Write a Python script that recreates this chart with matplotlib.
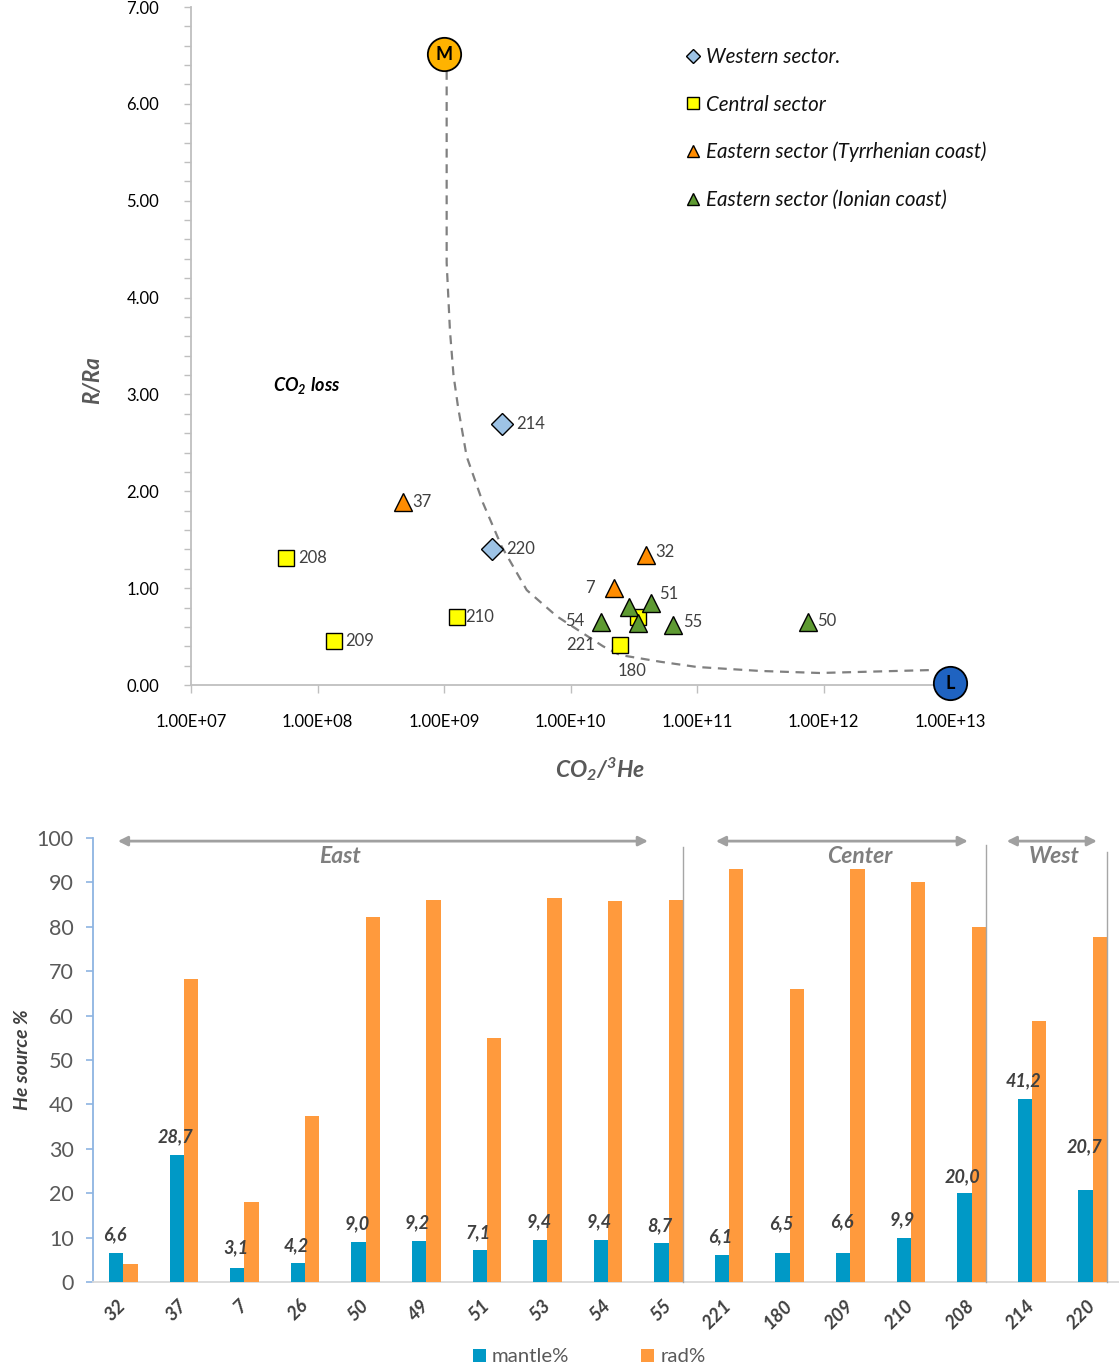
import matplotlib
matplotlib.use("Agg")
import matplotlib.pyplot as plt
from matplotlib.ticker import MultipleLocator, NullLocator
from matplotlib.lines import Line2D
from matplotlib.patches import Patch
import numpy as np

plt.rcParams['font.family'] = ['Lato', 'DejaVu Sans']
plt.rcParams['mathtext.fontset'] = 'custom'
plt.rcParams['mathtext.rm'] = 'Lato'
plt.rcParams['mathtext.it'] = 'Lato:italic'
plt.rcParams['mathtext.bf'] = 'Lato:bold'
plt.rcParams['mathtext.bfit'] = 'Lato:bold:italic'

# ---------------- R/Ra vs CO2/3He data ----------------
west_ids = ['214', '220']
west_x = [2.9e9, 2.4e9]
west_r = [2.69, 1.40]

central_ids = ['208', '209', '210', '221', '180']
central_x = [5.6e7, 1.35e8, 1.27e9, 2.45e10, 3.4e10]
central_r = [1.31, 0.45, 0.70, 0.41, 0.70]

tyrr_ids = ['37', '32', '7']
tyrr_x = [4.7e8, 3.95e10, 2.2e10]
tyrr_r = [1.89, 1.34, 1.00]

ionian_ids = ['54', '51', '55', '50', '49', '53']
ionian_x = [1.75e10, 4.35e10, 6.45e10, 7.6e11, 2.9e10, 3.4e10]
ionian_r = [0.65, 0.85, 0.62, 0.65, 0.81, 0.64]

# end-members and the mixing trend between them
mantle_end = (1.0e9, 6.51)
crust_end = (1.0e13, 0.02)
mix_logx = [9.021, 9.021, 9.021, 9.047, 9.075, 9.111, 9.179, 9.308, 9.456,
            9.654, 9.891, 10.257, 10.391, 10.71, 11.0, 11.5, 11.97, 12.87]
mix_r = [6.34, 5.04, 4.36, 3.66, 3.20, 2.87, 2.36, 1.88, 1.43,
         0.98, 0.71, 0.40, 0.31, 0.24, 0.186, 0.145, 0.124, 0.155]

x_tick_values = [1e7, 1e8, 1e9, 1e10, 1e11, 1e12, 1e13]
x_tick_labels = ['1.00E+07', '1.00E+08', '1.00E+09', '1.00E+10',
                 '1.00E+11', '1.00E+12', '1.00E+13']
y_tick_values = [0, 1, 2, 3, 4, 5, 6, 7]

# ---------------- He source bar data ----------------
samples = ['32', '37', '7', '26', '50', '49', '51', '53', '54', '55',
           '221', '180', '209', '210', '208', '214', '220']
mantle_pct = [6.6, 28.7, 3.1, 4.2, 9.0, 9.2, 7.1, 9.4, 9.4, 8.7,
              6.1, 6.5, 6.6, 9.9, 20.0, 41.2, 20.7]
rad_pct = [4.0, 68.3, 18.0, 37.5, 82.3, 86.0, 55.0, 86.5, 85.8, 86.0,
           93.1, 66.1, 93.0, 90.0, 80.0, 58.8, 77.6]

fig = plt.figure(figsize=(11.19, 13.68), dpi=100)
W, H = 1119.0, 1368.0

# =============== upper panel ===============
ax1 = fig.add_axes([191 / W, 1 - 685 / H, 759 / W, 678 / H])
ax1.set_xscale('log')
ax1.set_xlim(1e7, 1e13)
ax1.set_ylim(0, 7)

axis_gray = '#BFBFBF'
for s in ['top', 'right']:
    ax1.spines[s].set_visible(False)
for s in ['left', 'bottom']:
    ax1.spines[s].set_color(axis_gray)
    ax1.spines[s].set_linewidth(1.3)

ax1.set_xticks(x_tick_values)
ax1.set_xticklabels(x_tick_labels)
ax1.xaxis.set_minor_locator(NullLocator())
ax1.set_yticks(y_tick_values)
ax1.set_yticklabels(['%.2f' % v for v in y_tick_values])
ax1.yaxis.set_minor_locator(MultipleLocator(0.2))
ax1.tick_params(axis='x', which='major', color=axis_gray, length=6, width=1,
                labelsize=12, labelcolor='black', pad=15)
ax1.tick_params(axis='y', which='both', color=axis_gray, length=5, width=1,
                labelsize=12, labelcolor='black', pad=18)

# mixing trend
ax1.plot(10 ** np.array(mix_logx), mix_r, linestyle=(0, (4, 3)),
         color='#808080', lw=1.6, zorder=2)

mk = dict(markeredgecolor='black', markeredgewidth=1.0, linestyle='none', zorder=4)
ax1.plot(west_x, west_r, marker='D', markersize=11, markerfacecolor='#9DC3E6', **mk)
ax1.plot(central_x, central_r, marker='s', markersize=11, markerfacecolor='#FFFF00', **mk)
ax1.plot(tyrr_x, tyrr_r, marker='^', markersize=13, markerfacecolor='#FF8C00', **mk)
ax1.plot(ionian_x, ionian_r, marker='^', markersize=13, markerfacecolor='#5E9A32', **mk)

# end-member circles
ax1.plot(*mantle_end, marker='o', markersize=24, markerfacecolor='#FFB300',
         markeredgecolor='black', markeredgewidth=1.3, clip_on=False, zorder=5)
ax1.text(*mantle_end, 'M', ha='center', va='center', fontsize=13,
         fontweight='bold', zorder=6)
ax1.plot(*crust_end, marker='o', markersize=24, markerfacecolor='#1F63C1',
         markeredgecolor='black', markeredgewidth=1.3, clip_on=False, zorder=5)
ax1.text(*crust_end, 'L', ha='center', va='center', fontsize=13,
         fontweight='bold', zorder=6, clip_on=False)

# sample labels (offsets in points)
label_offsets = {
    '214': (10, 0, 'left'), '220': (10, 0, 'left'),
    '208': (9, 0, 'left'), '209': (8, 0, 'left'), '210': (6, 0, 'left'),
    '221': (-18, 0, 'right'), '180': (-4, -39, 'center'),
    '37': (7, 0, 'left'), '32': (7, 2, 'left'), '7': (-14, 0, 'right'),
    '54': (-12, 1, 'right'), '51': (6, 6, 'left'), '55': (7, 2, 'left'),
    '50': (6, 1, 'left'),
}
label_color = '#404040'
for ids, xs, rs in [(west_ids, west_x, west_r), (central_ids, central_x, central_r),
                    (tyrr_ids, tyrr_x, tyrr_r), (ionian_ids, ionian_x, ionian_r)]:
    for sid, xv, rv in zip(ids, xs, rs):
        if sid not in label_offsets:
            continue
        dx, dy, ha = label_offsets[sid]
        ax1.annotate(sid, (xv, rv), xytext=(dx, dy), textcoords='offset points',
                     ha=ha, va='center', fontsize=12, color=label_color, zorder=7)

ax1.text(0.153, 3.09, r'$\mathbfit{CO_2\ loss}$', transform=ax1.get_yaxis_transform(),
         fontsize=13, color='black', ha='center', va='center')

ax1.text(-0.13, 0.45, 'R/Ra', transform=ax1.transAxes, rotation=90,
         fontsize=16, fontweight='bold', fontstyle='italic', color='#595959',
         ha='center', va='center')
ax1.text(0.539, -0.124, r'$\mathbfit{CO_2/^3He}$', transform=ax1.transAxes,
         fontsize=16.5, color='#595959', ha='center', va='center')

legend_handles = [
    Line2D([], [], marker='D', markersize=7, markerfacecolor='#9DC3E6',
           markeredgecolor='black', linestyle='none', label='Western sector.'),
    Line2D([], [], marker='s', markersize=8, markerfacecolor='#FFFF00',
           markeredgecolor='black', linestyle='none', label='Central sector'),
    Line2D([], [], marker='^', markersize=9, markerfacecolor='#FF8C00',
           markeredgecolor='black', linestyle='none',
           label='Eastern sector (Tyrrhenian coast)'),
    Line2D([], [], marker='^', markersize=9, markerfacecolor='#5E9A32',
           markeredgecolor='black', linestyle='none',
           label='Eastern sector (Ionian coast)'),
]
leg = ax1.legend(handles=legend_handles, loc='upper left',
                 bbox_to_anchor=(679 / W, 1 - 39 / H), bbox_transform=fig.transFigure,
                 frameon=False, handlelength=0.55, handletextpad=0.35,
                 labelspacing=1.33, borderaxespad=0,
                 prop={'size': 14.8, 'style': 'italic'})
for t in leg.get_texts():
    t.set_color('#111111')

# =============== lower panel ===============
ax2 = fig.add_axes([93 / W, 1 - 1282 / H, 1030 / W, 444 / H])
n = len(samples)
xpos = np.arange(n)
bw = 0.236
blue = '#0099C6'
orange = '#FF9A3D'
ax2.bar(xpos - bw / 2, mantle_pct, width=bw, color=blue, label='mantle%', zorder=3)
ax2.bar(xpos + bw / 2, rad_pct, width=bw, color=orange, label='rad%', zorder=3)
ax2.set_xlim(-0.5, n - 0.5)
ax2.set_ylim(0, 100)
ax2.set_yticks(np.arange(0, 101, 10))
ax2.tick_params(axis='y', colors='#8DB4E2', length=5, width=1.2,
                labelsize=15.5, labelcolor='#595959', pad=9)
ax2.set_xticks(xpos)
ax2.set_xticklabels(samples, rotation=45, ha='right', va='center',
                    rotation_mode='anchor', fontsize=13.5, fontweight='bold',
                    fontstyle='italic', color='#404040')
ax2.tick_params(axis='x', length=0, pad=15)
for s in ['top', 'right']:
    ax2.spines[s].set_visible(False)
ax2.spines['left'].set_color('#8DB4E2')
ax2.spines['left'].set_linewidth(1.3)
ax2.spines['bottom'].set_color('#D9D9D9')
ax2.spines['bottom'].set_linewidth(1.3)

# mantle% value labels
label_lift = [13, 13, 15, 13, 13, 13, 13, 13, 13, 13, 13, 21, 22, 13, 12, 13, 31]
for xi, v, lift in zip(xpos, mantle_pct, label_lift):
    ax2.annotate(('%.1f' % v).replace('.', ','), (xi - bw / 2, v),
                 xytext=(-1, lift), textcoords='offset points', ha='center',
                 va='center', fontsize=13, fontweight='bold', fontstyle='italic',
                 color='#404040', zorder=5)

# region separators and spans
sep_top = {9: 98.0, 14: 98.4, 16: 96.8}
for i, top in sep_top.items():
    ax2.plot([i + bw, i + bw], [0, top], color='#A6A6A6', lw=1, zorder=4,
             clip_on=False)

arrow_gray = '#A0A0A0'
spans = [('East', -0.09, 8.66, 3.58), ('Center', 9.78, 13.94, 12.16),
         ('West', 14.58, 16.07, 15.37)]
for name, x0, x1, xt in spans:
    ax2.annotate('', xy=(x0, 99.3), xytext=(x1, 99.3),
                 arrowprops=dict(arrowstyle='<|-|>', color=arrow_gray, lw=2,
                                 mutation_scale=14, shrinkA=0, shrinkB=0),
                 annotation_clip=False)
    ax2.text(xt, 95.8, name, ha='center', va='center', fontsize=16.5,
             fontweight='bold', fontstyle='italic', color='#7F7F7F')

ax2.text(-0.068, 0.5, 'He source %', transform=ax2.transAxes, rotation=90,
         fontsize=14, fontweight='bold', fontstyle='italic', color='#404040',
         ha='center', va='center')

bar_handles = [Patch(facecolor=blue, label='mantle%'),
               Patch(facecolor=orange, label='rad%')]
fig.legend(handles=bar_handles, loc='center', bbox_to_anchor=(589 / W, 1 - 1357 / H),
           ncol=2, frameon=False, handlelength=0.65, handleheight=0.65,
           handletextpad=0.3, columnspacing=3.5,
           prop={'size': 14.7}, labelcolor='#595959')

fig.savefig('out.png', dpi=100)
